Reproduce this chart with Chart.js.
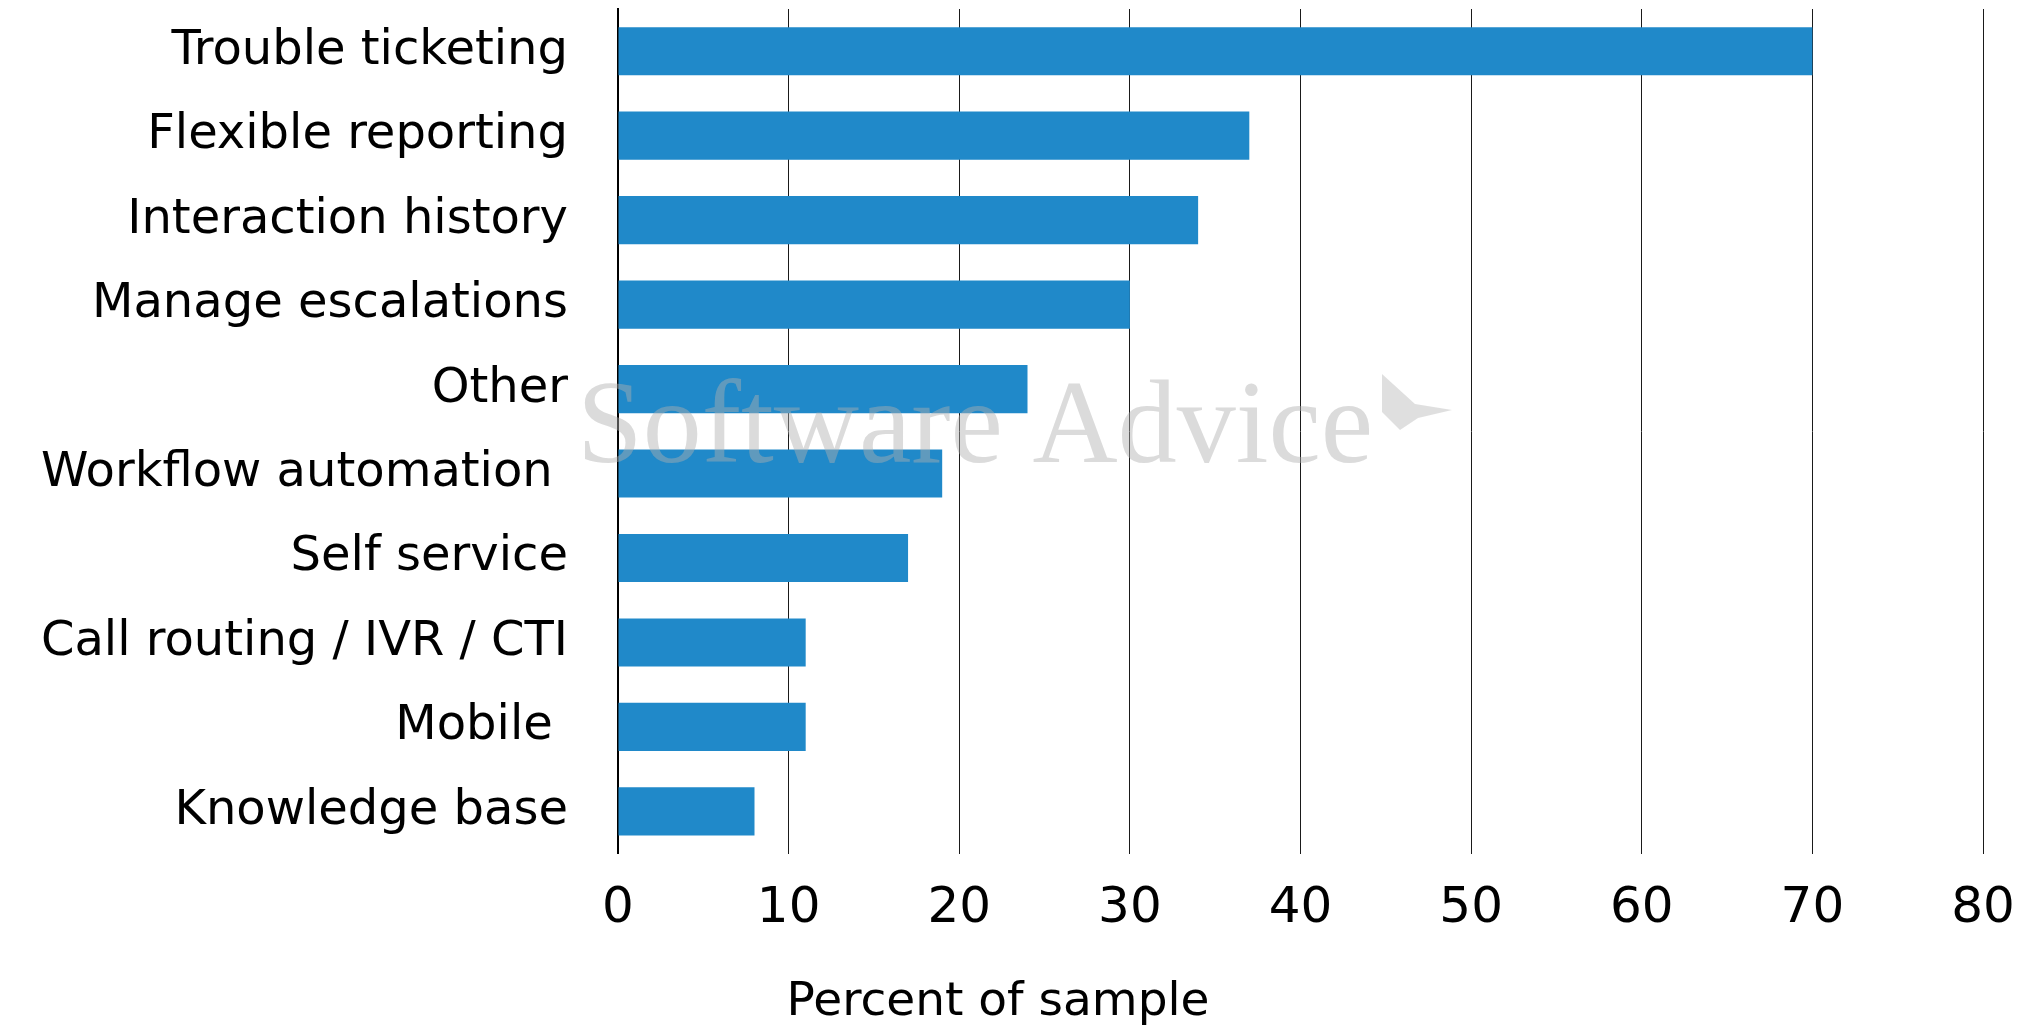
<!DOCTYPE html>
<html>
<head>
<meta charset="utf-8">
<script src="https://cdn.jsdelivr.net/npm/chart.js@4.4.1/dist/chart.umd.min.js"></script>
<style>
  html, body { margin: 0; padding: 0; background: #fff; }
  #wrap { width: 2032px; height: 1027px; position: relative; }
</style>
</head>
<body>
<div id="wrap"><canvas id="chart"></canvas></div>
<script>
// features, top to bottom (trailing spaces are in the original labels)
const features = [
    'Trouble ticketing',
    'Flexible reporting',
    'Interaction history',
    'Manage escalations',
    'Other',
    'Workflow automation ',
    'Self service',
    'Call routing / IVR / CTI',
    'Mobile ',
    'Knowledge base'
];
const percentOfSample = [70, 37, 34, 30, 24, 19, 17, 11, 11, 8];
const xTicks = [0, 10, 20, 30, 40, 50, 60, 70, 80];
const axisTitle = 'Percent of sample';
const watermark = 'Software Advice';

// faint watermark drawn over the bars
const watermarkPlugin = {
    id: 'watermark',
    afterDatasetsDraw(chart) {
        const ctx = chart.ctx;
        ctx.save();
        ctx.fillStyle = 'rgba(175, 175, 175, 0.45)';
        ctx.font = '118px "Liberation Serif", serif';
        ctx.textBaseline = 'alphabetic';
        ctx.textAlign = 'left';
        ctx.fillText(watermark, 577, 462);
        // little flag logo
        ctx.beginPath();
        ctx.moveTo(1382, 374);
        ctx.lineTo(1415, 404);
        ctx.lineTo(1452, 410);
        ctx.lineTo(1418, 418);
        ctx.lineTo(1400, 430);
        ctx.lineTo(1382, 412);
        ctx.closePath();
        ctx.fillStyle = 'rgba(185, 185, 185, 0.45)';
        ctx.fill();
        ctx.restore();
    }
};

const ctx = document.getElementById('chart').getContext('2d');
new Chart(ctx, {
    type: 'bar',
    data: {
        labels: features,
        datasets: [{
            data: percentOfSample,
            backgroundColor: '#2089c9',
            borderWidth: 0,
            barPercentage: 0.57,
            categoryPercentage: 1.0
        }]
    },
    options: {
        indexAxis: 'y',
        responsive: true,
        maintainAspectRatio: false,
        animation: false,
        layout: { padding: { left: 13, right: 49, top: 9, bottom: 0 } },
        plugins: {
            legend: { display: false },
            tooltip: { enabled: false },
            title: {
                display: true,
                text: axisTitle,
                position: 'bottom',
                color: '#000',
                font: { family: '"DejaVu Sans", Verdana, sans-serif', size: 47, weight: 'normal' },
                padding: { top: 11, bottom: -4 }
            }
        },
        scales: {
            x: {
                min: 0,
                max: 80,
                afterBuildTicks: (scale) => { scale.ticks = xTicks.map(v => ({ value: v })); },
                afterFit: (scale) => { scale.paddingRight = 0; scale.paddingLeft = 0; },
                grid: { color: '#1a1a1a', lineWidth: 1, drawTicks: false },
                border: { display: false },
                ticks: {
                    color: '#000',
                    padding: 25,
                    maxRotation: 0,
                    font: { family: '"DejaVu Sans", Verdana, sans-serif', size: 50 }
                }
            },
            y: {
                afterFit: (scale) => {
                    scale.width = 605;
                    scale.paddingTop = 0;
                    scale.paddingBottom = 0;
                },
                grid: { display: false, drawTicks: false },
                border: { display: true, color: '#000', width: 2 },
                ticks: {
                    color: '#000',
                    padding: 50,
                    font: { family: '"DejaVu Sans", Verdana, sans-serif', size: 48 }
                }
            }
        }
    },
    plugins: [watermarkPlugin]
});
</script>
</body>
</html>
